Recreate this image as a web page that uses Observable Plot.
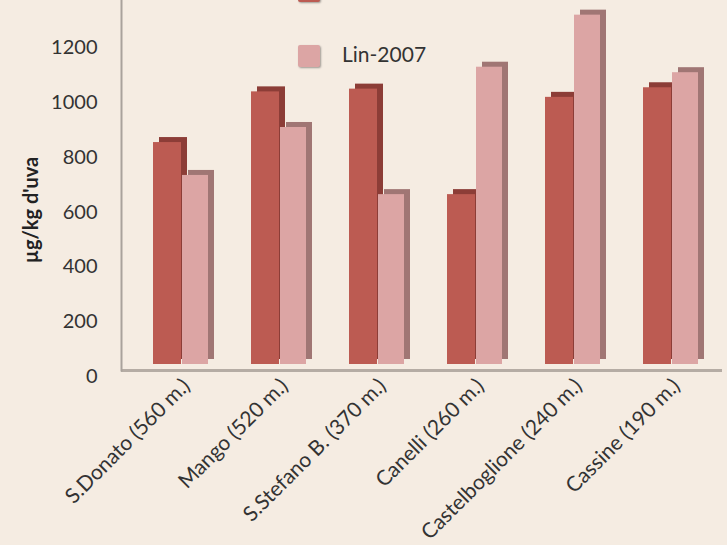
<!DOCTYPE html>
<html>
<head>
<meta charset="utf-8">
<script src="https://cdn.jsdelivr.net/npm/d3@7"></script>
<script src="https://cdn.jsdelivr.net/npm/@observablehq/plot@0.6"></script>
<style>
  html, body { margin: 0; padding: 0; background: #f5ece2; overflow: hidden; }
  #wrap { position: relative; width: 727px; height: 545px; }
  .lg { position: absolute; font-family: Lato, "Open Sans", sans-serif; font-size: 21px; color: #333; line-height: 24px; }
  .sw { position: absolute; width: 22px; height: 22px; border-radius: 2px; }
  .ylab { position: absolute; font-family: Lato, "Open Sans", sans-serif; font-size: 20px; font-weight: bold; color: #222;
          left: 30px; top: 210px; transform: translate(-50%, -50%) rotate(-90deg); white-space: nowrap; }
</style>
</head>
<body>
<div id="wrap"></div>
<script>
const categories = ["S.Donato (560 m.)", "Mango (520 m.)", "S.Stefano B. (370 m.)", "Canelli (260 m.)", "Castelboglione (240 m.)", "Cassine (190 m.)"];
const series = ["Lin-2006", "Lin-2007"];
const values2006 = [810, 995, 1005, 620, 975, 1010];
const values2007 = [690, 865, 620, 1085, 1275, 1065];
const yTicks = [0, 200, 400, 600, 800, 1000, 1200, 1400];
const yLabel = "µg/kg d'uva";

const d06 = categories.map((c, i) => ({cat: c, v: values2006[i]}));
const d07 = categories.map((c, i) => ({cat: c, v: values2007[i]}));

const red = "#bc5b52", redSide = "#8c3d37";
const pink = "#dca5a4", pinkSide = "#a07674";
const font = "Lato, 'Open Sans', sans-serif";

const chart = Plot.plot({
  width: 727,
  height: 545,
  marginLeft: 121,
  marginRight: 5,
  marginTop: 0,
  marginBottom: 175,
  style: {background: "#f5ece2", fontFamily: font, color: "#333", overflow: "visible"},
  x: {domain: categories, range: [133, 722], padding: 0},
  y: {domain: [0, 1400], range: [364, -19.6]},
  marks: [
    Plot.ruleY([0], {stroke: "#b5aca4", strokeWidth: 3, dy: 6}),
    Plot.frame({anchor: "left", stroke: "#a9a29c", strokeWidth: 2}),
    Plot.barY(d06, {x: "cat", y: "v", fill: redSide, insetLeft: 19, insetRight: 51, dx: 6, dy: -5}),
    Plot.barY(d06, {x: "cat", y: "v", fill: red, insetLeft: 19, insetRight: 51}),
    Plot.barY(d07, {x: "cat", y: "v", fill: pinkSide, insetLeft: 48, insetRight: 24, dx: 6, dy: -5}),
    Plot.barY(d07, {x: "cat", y: "v", fill: pink, insetLeft: 48, insetRight: 24}),
    Plot.axisY({ticks: yTicks, tickFormat: d => String(d), tickSize: 0, tickPadding: 24, dy: 12, fontSize: 20, label: null}),
    Plot.axisX({tickSize: 0, tickPadding: 12, tickRotate: -45, dx: 3, fontSize: 21, label: null})
  ]
});

const wrap = document.getElementById("wrap");
wrap.appendChild(chart);

const yl = document.createElement("div");
yl.className = "ylab";
yl.textContent = yLabel;
wrap.appendChild(yl);

const legendColors = [red, pink];
const legendTops = [-20, 45];
series.forEach((s, i) => {
  const sw = document.createElement("div");
  sw.className = "sw";
  sw.style.left = "298px";
  sw.style.top = legendTops[i] + "px";
  sw.style.background = legendColors[i];
  sw.style.boxShadow = "1px 1px 2px rgba(0,0,0,0.35)";
  wrap.appendChild(sw);
  const t = document.createElement("div");
  t.className = "lg";
  t.textContent = s;
  t.style.left = "342px";
  t.style.top = (legendTops[i] - 3) + "px";
  wrap.appendChild(t);
});
</script>
</body>
</html>
